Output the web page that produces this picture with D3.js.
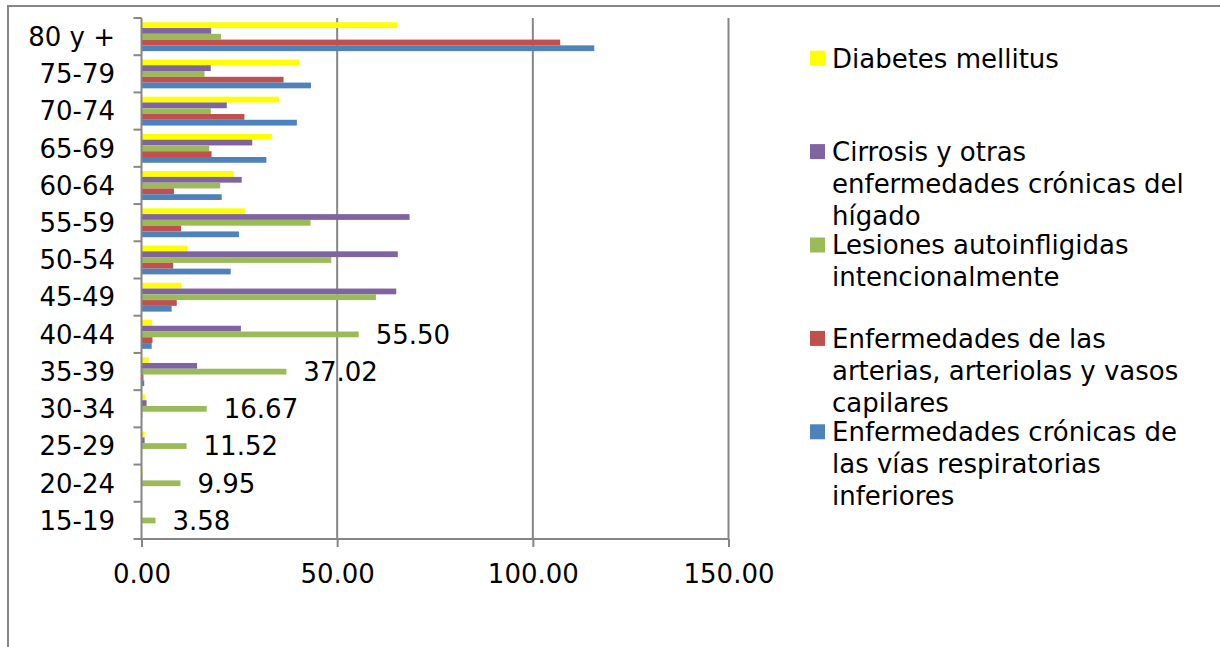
<!DOCTYPE html>
<html>
<head>
<meta charset="utf-8">
<script src="https://cdn.jsdelivr.net/npm/d3@7/dist/d3.min.js"></script>
<style>
  html, body { margin: 0; padding: 0; background: #ffffff; }
  svg { display: block; font-family: "DejaVu Sans", Verdana, sans-serif; }
</style>
</head>
<body>
<svg id="chart" width="1220" height="647"></svg>
<script>
// Age groups, bottom to top
const categories = ["15-19","20-24","25-29","30-34","35-39","40-44","45-49","50-54","55-59","60-64","65-69","70-74","75-79","80 y +"];

// Rates per cause of death
const respiratorias = [0, 0.1, 0, 0.1, 0.7, 2.6, 7.7, 22.8, 24.9, 20.5, 31.9, 39.7, 43.3, 115.7];
const arterias      = [0, 0, 0.1, 0.2, 0.5, 2.8, 9.0, 8.1, 10.1, 8.3, 17.9, 26.3, 36.3, 107.0];
const lesiones      = [3.58, 9.95, 11.52, 16.67, 37.02, 55.50, 59.9, 48.5, 43.2, 20.1, 17.3, 17.7, 16.1, 20.3];
const cirrosis      = [0, 0.2, 0.8, 1.3, 14.2, 25.4, 65.1, 65.5, 68.5, 25.6, 28.3, 21.8, 17.7, 17.8];
const diabetes      = [0.1, 0.3, 0.8, 0.9, 1.8, 2.7, 10.2, 11.7, 26.4, 23.6, 33.3, 35.1, 40.3, 65.3];

// Age groups whose "Lesiones" value is written next to the bar
const labelledGroups = ["15-19","20-24","25-29","30-34","35-39","40-44"];

const xTicks = [0, 50, 100, 150];

// Series in the order they appear within each group (top to bottom) and in the legend
const series = [
  { key: "diabetes",      values: diabetes,      color: "#FFFF00", legend: ["Diabetes mellitus"] },
  { key: "cirrosis",      values: cirrosis,      color: "#8064A2", legend: ["Cirrosis y otras", "enfermedades crónicas del", "hígado"] },
  { key: "lesiones",      values: lesiones,      color: "#9BBB59", legend: ["Lesiones autoinfligidas", "intencionalmente"] },
  { key: "arterias",      values: arterias,      color: "#C0504D", legend: ["Enfermedades de las", "arterias, arteriolas y vasos", "capilares"] },
  { key: "respiratorias", values: respiratorias, color: "#4F81BD", legend: ["Enfermedades crónicas de", "las vías respiratorias", "inferiores"] }
];

const svg = d3.select("#chart");
const gray = "#868686";
const fontSize = 26;

// Outer chart frame
svg.append("rect")
  .attr("x", 8).attr("y", 6)
  .attr("width", 1400).attr("height", 800)
  .attr("fill", "none").attr("stroke", gray).attr("stroke-width", 2);

const plot = { left: 141.5, right: 728.5, top: 18, bottom: 539 };

const x = d3.scaleLinear().domain([0, 150]).range([plot.left, plot.right]);
const y = d3.scaleBand()
  .domain(categories.slice().reverse())
  .range([plot.top, plot.bottom])
  .padding(0);
const bw = y.bandwidth();
const ySeries = d3.scaleBand()
  .domain(series.map(s => s.key))
  .range([bw * 0.115, bw * 0.89])
  .padding(0);

// Vertical gridlines
svg.append("g")
  .selectAll("line")
  .data(xTicks.filter(t => t > 0))
  .join("line")
  .attr("x1", d => x(d)).attr("x2", d => x(d))
  .attr("y1", plot.top).attr("y2", plot.bottom)
  .attr("stroke", gray).attr("stroke-width", 2);

// Bars
const groups = svg.append("g")
  .selectAll("g")
  .data(categories)
  .join("g")
  .attr("transform", d => `translate(0,${y(d)})`);

groups.selectAll("rect")
  .data((c, i) => series.map(s => ({ key: s.key, color: s.color, value: s.values[i] })))
  .join("rect")
  .attr("x", x(0))
  .attr("y", d => ySeries(d.key))
  .attr("width", d => x(d.value) - x(0))
  .attr("height", ySeries.bandwidth())
  .attr("fill", d => d.color);

// Value labels on the "Lesiones" bars of the younger groups
svg.append("g")
  .selectAll("text")
  .data(labelledGroups)
  .join("text")
  .attr("x", c => x(lesiones[categories.indexOf(c)]) + 17)
  .attr("y", c => y(c) + ySeries("lesiones") + ySeries.bandwidth() / 2)
  .attr("dy", "0.36em")
  .attr("font-size", fontSize)
  .attr("fill", "#000")
  .text(c => d3.format(".2f")(lesiones[categories.indexOf(c)]));

// Bottom axis
const xAxis = svg.append("g")
  .attr("transform", `translate(0,${plot.bottom})`)
  .call(d3.axisBottom(x).tickValues(xTicks).tickFormat(d3.format(".2f")).tickSize(8).tickPadding(18).tickSizeOuter(0));
xAxis.select(".domain").attr("stroke", gray).attr("stroke-width", 2)
  .attr("d", `M${plot.left - 8},0H${plot.right}`);
xAxis.selectAll(".tick line").attr("stroke", gray).attr("stroke-width", 2);
xAxis.selectAll(".tick text")
  .attr("font-size", fontSize)
  .attr("font-family", "DejaVu Sans, Verdana, sans-serif")
  .attr("fill", "#000");

// Left axis with ticks on group boundaries
svg.append("line")
  .attr("x1", plot.left).attr("x2", plot.left)
  .attr("y1", plot.top).attr("y2", plot.bottom)
  .attr("stroke", gray).attr("stroke-width", 2);
const boundaries = categories.map(c => y(c));
svg.append("g")
  .selectAll("line")
  .data(boundaries)
  .join("line")
  .attr("x1", plot.left - 8).attr("x2", plot.left)
  .attr("y1", d => d).attr("y2", d => d)
  .attr("stroke", gray).attr("stroke-width", 2);

svg.append("g")
  .selectAll("text")
  .data(categories)
  .join("text")
  .attr("x", 115)
  .attr("y", c => y(c) + bw / 2)
  .attr("dy", "0.36em")
  .attr("text-anchor", "end")
  .attr("font-size", fontSize)
  .attr("fill", "#000")
  .text(c => c);

// Legend
const legendTop = 58.2, legendStep = 93.4, lineHeight = 32;
const legend = svg.append("g")
  .selectAll("g")
  .data(series)
  .join("g")
  .attr("transform", (d, i) => `translate(0,${legendTop + i * legendStep})`);

legend.append("rect")
  .attr("x", 810).attr("y", -7.5)
  .attr("width", 15).attr("height", 15)
  .attr("fill", d => d.color);

legend.append("text")
  .attr("font-size", fontSize)
  .attr("fill", "#000")
  .selectAll("tspan")
  .data(d => d.legend)
  .join("tspan")
  .attr("x", 832)
  .attr("y", (t, j) => j * lineHeight)
  .attr("dy", "0.36em")
  .text(t => t);
</script>
</body>
</html>
